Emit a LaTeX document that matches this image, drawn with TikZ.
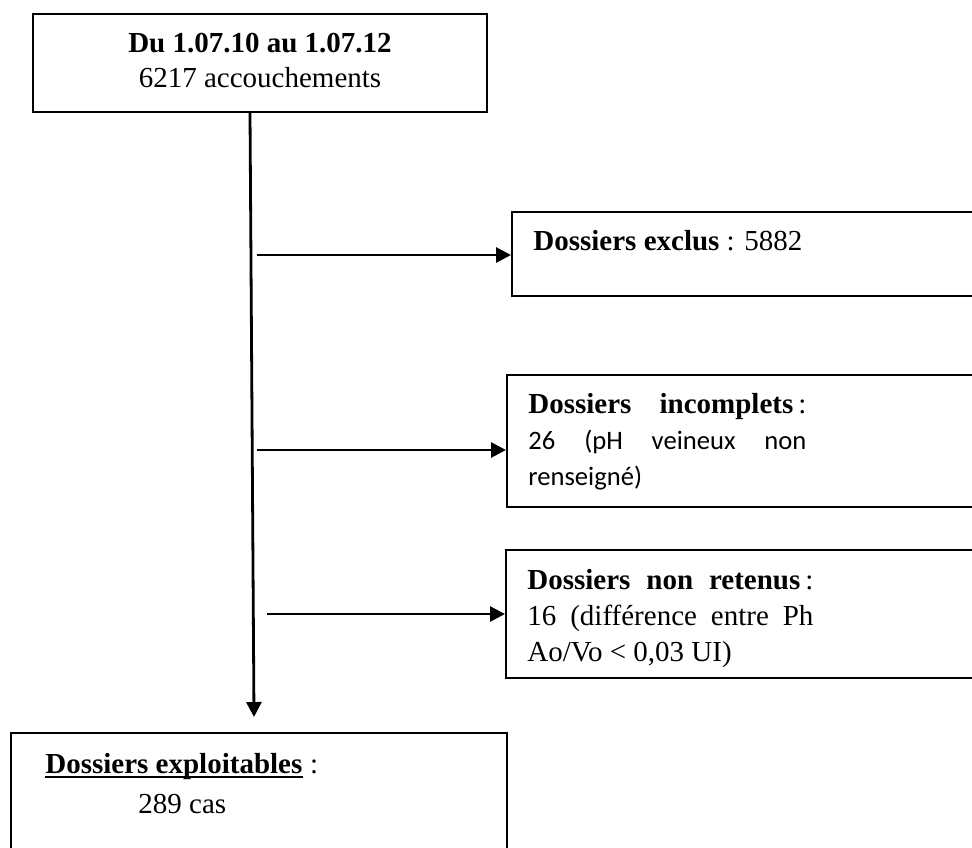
\documentclass[tikz,border=0pt]{standalone}
\usepackage{fontspec}
\setmainfont{Liberation Serif}
\newfontfamily\calib{Carlito}
\usetikzlibrary{arrows.meta}
\begin{document}
\begin{tikzpicture}[x=0.5pt,y=-0.5pt,
  box/.style={draw, line width=1pt, rectangle, inner sep=0pt},
  arr/.style={line width=1.4pt, -{Triangle[length=7.5pt,width=7.5pt]}},
  txt/.style={inner sep=0pt, anchor=base west, font=\fontsize{14.5}{18}\selectfont}]
\useasboundingbox (0,0) rectangle (972,847);
\clip (0,0) rectangle (972,847);
% boxes
\node[box, minimum width=227pt, minimum height=49pt] (top) at (260,63) {};
\node[box, minimum width=294pt, minimum height=42pt] (b2) at (806,254) {};
\node[box, minimum width=296.5pt, minimum height=66pt] (b3) at (803.5,441) {};
\node[box, minimum width=297pt, minimum height=64pt] (b4) at (803,614) {};
\node[box, minimum width=248pt, minimum height=83.5pt] (b5) at (259,816.5) {};
% texts
\node[txt, anchor=base] (toptxt1) at (260,52) {\textbf{Du 1.07.10 au 1.07.12}};
\node[txt, anchor=base] (toptxt2) at (260,87) {6217 accouchements};
\node[txt] (t2) at (533,250) {\textbf{Dossiers exclus} : 5882};
\node[txt] (t3) at (528,413) {\parbox[t]{139pt}{\fontsize{14.5}{18}\selectfont\hyphenpenalty=10000
  \textbf{Dossiers incomplets}\hspace{2.5pt}:\linebreak
  {\calib\fontsize{13.3}{18}\selectfont 26 (pH veineux non\linebreak renseigné)}}};
\node[txt] (t4) at (527,589) {\parbox[t]{143pt}{\fontsize{14.5}{18}\selectfont\hyphenpenalty=10000
  \textbf{Dossiers non retenus}\hspace{2.5pt}:\linebreak
  16 (différence entre Ph\linebreak Ao/Vo < 0,03 UI)}};
\node[txt] (t5) at (45,773) {\textbf{Dossiers exploitables}};
\node[txt] (t5c) at (t5.base east) {\hspace{3.5pt}:};
\draw[line width=1.3pt] ([yshift=-2pt]t5.base west) -- ([yshift=-2pt]t5.base east);
\node[txt] (t6) at (138,813) {289 cas};
% connectors
\coordinate (s1) at (257,255);
\coordinate (s2) at (257,450);
\coordinate (s3) at (267,614);
\draw[arr] ([xshift=-5pt]top.south) -- ([xshift=-2.5pt,yshift=7.5pt]b5.north);
\draw[arr] (s1) -- (s1 -| b2.west);
\draw[arr] (s2) -- (s2 -| b3.west);
\draw[arr] (s3) -- (s3 -| b4.west);
\end{tikzpicture}
\end{document}
